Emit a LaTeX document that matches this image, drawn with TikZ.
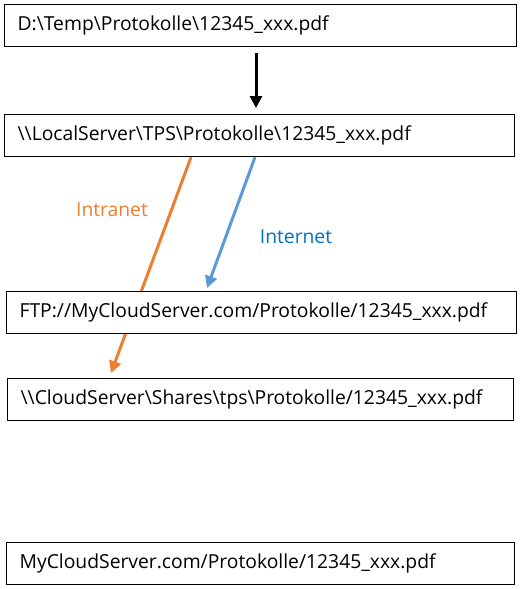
\documentclass[tikz,border=0pt]{standalone}
\usepackage{fontspec}
\setmainfont{Open Sans}
\usetikzlibrary{arrows.meta,calc}
\pgfdeclarelayer{bg}
\pgfsetlayers{bg,main}
\definecolor{orangeA}{HTML}{ED7D31}
\definecolor{blueA}{HTML}{5B9BD5}
\definecolor{blueT}{HTML}{0070C0}
\begin{document}
\begin{tikzpicture}[x=1pt,y=-1pt,
  box/.style={draw=black, fill=white, line width=1.2pt, rectangle, anchor=north west,
    minimum height=42pt, inner xsep=13pt, inner ysep=0pt, align=left,
    font=\fontsize{19.3}{22}\selectfont},
  conn/.style={line width=3pt, -{Triangle[length=12pt,width=12pt]}},
  lbl/.style={font=\fontsize{19.3}{22}\selectfont}]
\useasboundingbox (0,0) rectangle (521,589);
\node[box, text width=486pt] (b1) at (4,4) {D:\textbackslash Temp\textbackslash Protokolle\textbackslash 12345\_xxx.pdf};
\node[box, text width=484pt] (b2) at (4,114) {\textbackslash\textbackslash LocalServer\textbackslash TPS\textbackslash Protokolle\textbackslash 12345\_xxx.pdf};
\node[box, text width=484pt] (b3) at (6,291) {FTP://MyCloudServer.com/Protokolle/12345\_xxx.pdf};
\node[box, text width=480pt] (b4) at (7,378) {\textbackslash\textbackslash CloudServer\textbackslash Shares\textbackslash tps\textbackslash Protokolle/12345\_xxx.pdf};
\node[box, text width=482pt] (b5) at (6,542) {MyCloudServer.com/Protokolle/12345\_xxx.pdf};
\draw[conn, black] ($(b1.south west)+(252,6)$) -- ($(b2.north west)+(252,-6)$);
\begin{pgfonlayer}{bg}
\draw[conn, orangeA] ($(b2.south west)+(187,0)$) -- ($(b4.north west)+(104,-5)$);
\end{pgfonlayer}
\draw[conn, blueA] ($(b2.south west)+(251,0)$) -- ($(b3.north west)+(201,-3)$);
\node[lbl, text=orangeA] (l1) at (112,210) {Intranet};
\node[lbl, text=blueT] (l2) at (296,237) {Internet};
\end{tikzpicture}
\end{document}
